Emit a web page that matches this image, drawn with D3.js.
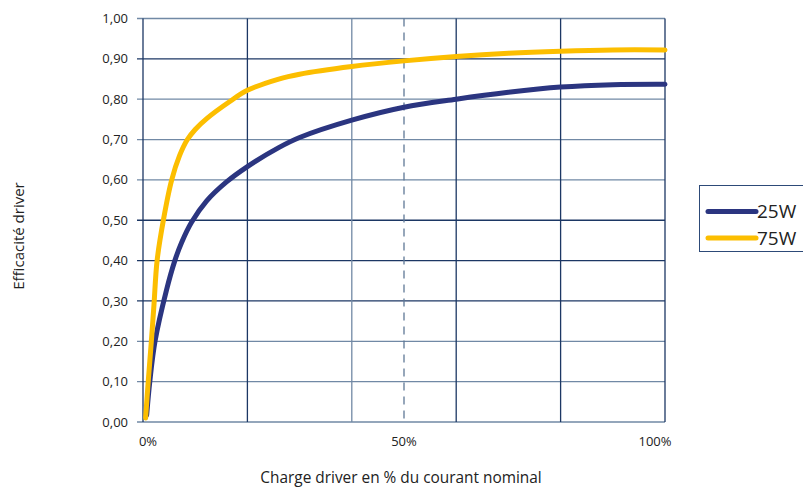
<!DOCTYPE html>
<html><head><meta charset="utf-8">
<script src="https://cdn.jsdelivr.net/npm/d3@7"></script>
<style>body{margin:0;background:#fff;} svg{display:block;font-family:"Open Sans","Noto Sans",sans-serif;}</style>
</head><body><svg id="c" width="803" height="487"></svg>
<script>
const seriesNames = ["25W", "75W"];
const seriesColors = ["#2b3580", "#fcbe00"];
const x25 = [0.7, 1.3, 2.3, 4.5, 6.1, 7.4, 9.3, 12.2, 16, 20, 26, 30, 40, 50, 60, 70, 80, 90, 100];
const y25 = [0.017, 0.10, 0.20, 0.327, 0.40, 0.445, 0.495, 0.548, 0.595, 0.633, 0.68, 0.705, 0.748, 0.78, 0.80, 0.817, 0.83, 0.836, 0.837];
const x75 = [0.5, 1.0, 1.6, 2.1, 2.7, 3.9, 5.5, 7.0, 8.5, 10, 12.2, 16.7, 20, 26, 30, 40, 50, 60, 70, 80, 90, 100];
const y75 = [0.01, 0.10, 0.20, 0.29, 0.40, 0.50, 0.60, 0.66, 0.70, 0.725, 0.752, 0.795, 0.822, 0.85, 0.862, 0.881, 0.895, 0.906, 0.914, 0.919, 0.922, 0.922];
const yTicks = [0, 0.1, 0.2, 0.3, 0.4, 0.5, 0.6, 0.7, 0.8, 0.9, 1.0];
const xGrid = [0, 20, 40, 60, 80, 100];
const xLabels = [0, 50, 100];

const svg = d3.select("#c");
const L = 143, R = 665, T = 18.5, B = 422;
const x = d3.scaleLinear().domain([0, 100]).range([L, R]);
const y = d3.scaleLinear().domain([0, 1]).range([B, T]);
const dark = "#1c3764", light = "#7189a5";
const darkH = new Set([0.3, 0.4, 0.5, 0.9]);

svg.append("g").selectAll("line").data(yTicks).join("line")
  .attr("x1", L - 6).attr("x2", R)
  .attr("y1", d => y(d)).attr("y2", d => y(d))
  .attr("stroke", d => darkH.has(+d.toFixed(1)) ? dark : light)
  .attr("stroke-width", 1.3);
svg.append("g").selectAll("line").data(xGrid).join("line")
  .attr("x1", d => x(d)).attr("x2", d => x(d))
  .attr("y1", T).attr("y2", B)
  .attr("stroke", d => d === 40 ? light : dark)
  .attr("stroke-width", 1.3);
svg.append("line").attr("x1", x(50)).attr("x2", x(50)).attr("y1", T).attr("y2", B)
  .attr("stroke", "#5f7896").attr("stroke-width", 1.3).attr("stroke-dasharray", "8,6");

svg.append("g").selectAll("text").data(yTicks).join("text")
  .attr("x", 128).attr("y", d => y(d)).attr("dy", "0.35em")
  .attr("text-anchor", "end").attr("font-size", 13).attr("fill", "#222")
  .text(d => d3.format(".2f")(d).replace(".", ","));
svg.append("g").selectAll("text").data(xLabels).join("text")
  .attr("x", d => x(d) + (d === 0 ? 5 : d === 100 ? -10 : 0)).attr("y", 446)
  .attr("text-anchor", "middle").attr("font-size", 13).attr("fill", "#222")
  .text(d => d + "%");

svg.append("text").attr("x", 401).attr("y", 483).attr("text-anchor", "middle")
  .attr("font-size", 15.4).attr("fill", "#222").text("Charge driver en % du courant nominal");
svg.append("text").attr("transform", "translate(24,236) rotate(-90)").attr("text-anchor", "middle")
  .attr("font-size", 15).attr("fill", "#222").text("Efficacité driver");

const line = d3.line().x(d => x(d[0])).y(d => y(d[1])).curve(d3.curveCatmullRom.alpha(0.5));
const data = [d3.zip(x25, y25), d3.zip(x75, y75)];
svg.append("g").selectAll("path").data(data).join("path")
  .attr("d", line).attr("fill", "none")
  .attr("stroke", (d, i) => seriesColors[i]).attr("stroke-width", 5)
  .attr("stroke-linecap", "round").attr("stroke-linejoin", "round");

const lg = svg.append("g");
lg.append("rect").attr("x", 699.5).attr("y", 185.5).attr("width", 120).attr("height", 66)
  .attr("fill", "#fff").attr("stroke", "#2d4a78").attr("stroke-width", 1);
seriesNames.forEach((n, i) => {
  const yy = 211.5 + i * 26.5;
  lg.append("line").attr("x1", 708).attr("x2", 756).attr("y1", yy).attr("y2", yy)
    .attr("stroke", seriesColors[i]).attr("stroke-width", 5).attr("stroke-linecap", "round");
  lg.append("text").attr("x", 757).attr("y", yy).attr("dy", "0.36em")
    .attr("font-size", 19).attr("fill", "#222").text(n);
});
</script></body></html>
